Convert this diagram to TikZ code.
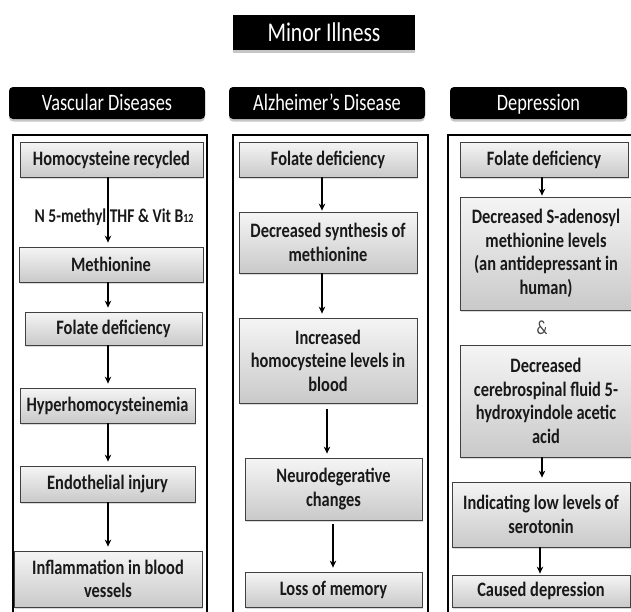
\documentclass[tikz,border=0pt]{standalone}
\usepackage{fontspec}
\setmainfont{Carlito}[FakeStretch=0.80]
\newfontfamily\bxfont{Carlito}[FakeStretch=0.80]
\newfontfamily\hdfont{Carlito}[FakeStretch=0.78]
\usetikzlibrary{shadows,arrows.meta}
\begin{document}
\begin{tikzpicture}[x=1pt,y=-1pt,
  gbox/.style={draw=gray!50!black, line width=0.8pt, top color=gray!8, bottom color=gray!42,
    inner sep=0pt, align=center, text=black!90,
    font=\bxfont\bfseries\fontsize{20.5}{23.5}\selectfont,
    drop shadow={opacity=0.3, shadow xshift=1.2pt, shadow yshift=-1.8pt}},
  hdr/.style={fill=black, rounded corners=4pt, text=white, inner sep=0pt,
    text height=17pt, text depth=2pt,
    font=\hdfont\fontsize{23.5}{25}\selectfont,
    drop shadow={fill=gray!45, opacity=1, shadow xshift=0pt, shadow yshift=-2.5pt}},
  frame/.style={draw=black, line width=1.8pt},
  arr/.style={-{Stealth[length=7pt,width=6.5pt]}, line width=1.4pt, shorten >=4pt},
  lbl/.style={inner sep=0pt, text=black!90, font=\bxfont\bfseries\fontsize{19.5}{21}\selectfont}]
\useasboundingbox (0,0) rectangle (631,611);

% title and headers
\node[hdr, rounded corners=0pt, minimum width=182pt, minimum height=35pt, text height=19pt, text depth=2pt, font=\fontsize{27}{29}\selectfont] (title) at (324,32.5) {Minor Illness};
\node[hdr, minimum width=196pt, minimum height=32pt] (h1) at (107,103) {Vascular Diseases};
\node[hdr, minimum width=196pt, minimum height=32pt] (h2) at (327,103) {Alzheimer’s Disease};
\node[hdr, minimum width=177pt, minimum height=32pt] (h3) at (538.5,103) {Depression};

% frames
\draw[frame] (13,135) rectangle (207,625);
\draw[frame] (233,135) rectangle (428,625);
\draw[frame] (448,135) rectangle (640,625);

% column axes
\coordinate (xv) at (108,0);
\coordinate (xa) at (322,0);
\coordinate (xb) at (327,0);
\coordinate (xc) at (333,0);
\coordinate (xd) at (542,0);
\coordinate (xe) at (540,0);

% Vascular
\node[gbox, minimum width=183pt, minimum height=35pt] (v1) at (111.5,159.5) {Homocysteine recycled};
\node[gbox, minimum width=184pt, minimum height=35pt] (v2) at (111,264.5) {Methionine};
\node[gbox, minimum width=177pt, minimum height=33pt] (v3) at (113.5,328.5) {Folate deficiency};
\node[gbox, minimum width=175pt, minimum height=35pt] (v4) at (107.5,405.5) {Hyperhomocysteinemia};
\node[gbox, minimum width=175pt, minimum height=36pt] (v5) at (107.5,484) {Endothelial injury};
\node[gbox, minimum width=188pt, minimum height=56pt] (v6) at (108,579) {Inflammation in blood\\vessels};
\draw[arr] (v1.south -| xv) -- (v2.north -| xv);
\node[lbl] (lab) at (114,217) {N 5-methyl THF \& Vit B\raisebox{-0.5pt}{\fontsize{12.5}{12.5}\selectfont 12}};
\draw[arr] (v2.south -| xv) -- (v3.north -| xv);
\draw[arr] (v3.south -| xv) -- (v4.north -| xv);
\draw[arr] (v4.south -| xv) -- (v5.north -| xv);
\draw[arr] (v5.south -| xv) -- (v6.north -| xv);

% Alzheimer's
\node[gbox, minimum width=178pt, minimum height=35pt] (a1) at (328,159.5) {Folate deficiency};
\node[gbox, minimum width=178pt, minimum height=61pt] (a2) at (328,242.5) {Decreased synthesis of\\methionine};
\node[gbox, minimum width=178pt, minimum height=85pt] (a3) at (328,360.5) {Increased\\homocysteine levels in\\blood};
\node[gbox, minimum width=177pt, minimum height=62pt] (a4) at (333.5,489) {Neurodegerative\\changes};
\node[gbox, minimum width=177pt, minimum height=35pt] (a5) at (333.5,589.5) {Loss of memory};
\draw[arr, shorten >=1pt] (a1.south -| xa) -- (a2.north -| xa);
\draw[arr] (a2.south -| xa) -- (a3.north -| xa);
\draw[arr, shorten <=6pt] (a3.south -| xb) -- (a4.north -| xb);
\draw[arr, shorten <=4pt] (a4.south -| xc) -- (a5.north -| xc);

% Depression
\node[gbox, minimum width=168pt, minimum height=35pt] (d1) at (544,159.5) {Folate deficiency};
\node[gbox, minimum width=172pt, minimum height=113pt] (d2) at (546,253.5) {Decreased S-adenosyl\\methionine levels\\(an antidepressant in\\human)};
\node[text=gray!55!black, inner sep=0pt, font=\fontsize{20}{20}\selectfont] (amp) at (542,328) {\&};
\node[gbox, minimum width=172pt, minimum height=112pt] (d3) at (546,401) {Decreased\\cerebrospinal fluid 5-\\hydroxyindole acetic\\acid};
\node[gbox, minimum width=178pt, minimum height=65pt] (d4) at (541,514.5) {Indicating low levels of\\serotonin};
\node[gbox, minimum width=178pt, minimum height=32pt] (d5) at (541,591) {Caused depression};
\draw[arr, shorten >=1pt] (d1.south -| xd) -- (d2.north -| xd);
\draw[arr] (d3.south -| xd) -- (d4.north -| xd);
\draw[arr, shorten >=1pt] (d4.south -| xe) -- (d5.north -| xe);
\end{tikzpicture}
\end{document}
